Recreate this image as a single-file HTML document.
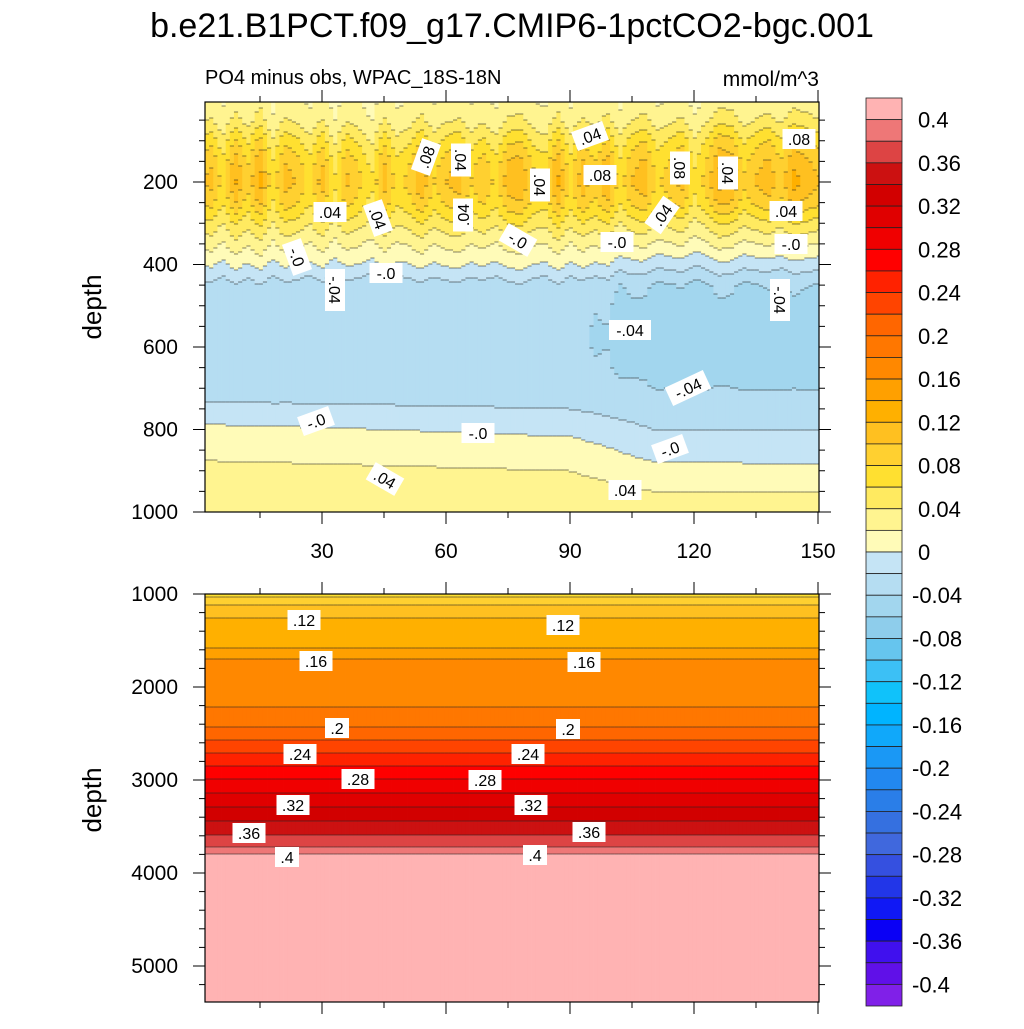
<!DOCTYPE html>
<html><head><meta charset="utf-8">
<style>
html,body{margin:0;padding:0;background:#fff;}
body{width:1024px;height:1024px;overflow:hidden;font-family:"Liberation Sans",Arial,sans-serif;}
svg text{font-family:"Liberation Sans",Arial,sans-serif;}
</style></head>
<body>
<svg id="fig" width="1024" height="1024" viewBox="0 0 1024 1024" xmlns="http://www.w3.org/2000/svg">
<text x="512" y="37" font-size="34" text-anchor="middle">b.e21.B1PCT.f09_g17.CMIP6-1pctCO2-bgc.001</text>
<text x="205" y="84" font-size="20">PO4 minus obs, WPAC_18S-18N</text>
<text x="819" y="86" font-size="21" text-anchor="end">mmol/m^3</text>
<text transform="translate(101,307) rotate(-90)" font-size="26" text-anchor="middle">depth</text>
<text transform="translate(101,800) rotate(-90)" font-size="26" text-anchor="middle">depth</text>
<g id="topPlot"></g>
<g id="botPlot"></g>
<g id="labels"></g>
<g id="axes"></g>
<g id="cbar"></g>
</svg>
<script>
// ---- data ----
const posColors = ["#FFFBB8","#FFF490","#FFEA60","#FFE030","#FFD030","#FFC020","#FFB000","#FFA000","#FF8800","#FF7700","#FF6600","#FF4400","#FF2200","#FF0000","#F00000","#E00000","#D20000","#CC1111","#DD4444","#EE7777","#FFB3B3"];
const negColors = ["#C5E4F5","#B5DDF2","#A2D6EE","#8ECDEB","#66C5EE","#3CC0F5","#10C2FA","#00B4FF","#10A8FA","#1A98F5","#2288F0","#2A7EE8","#3570E0","#4068DD","#3550E0","#2236E8","#1018F5","#0A00F5","#4010EE","#6010E8","#8020E8"];
const cbarLabels = ["0.4","0.36","0.32","0.28","0.24","0.2","0.16","0.12","0.08","0.04","0","-0.04","-0.08","-0.12","-0.16","-0.2","-0.24","-0.28","-0.32","-0.36","-0.4"];
const xTicks = [30,60,90,120,150];
const topYTicks = [200,400,600,800,1000];
const botYTicks = [1000,2000,3000,4000,5000];

const topDepths = [0,50,100,150,200,250,300,350,400,450,500,550,600,650,700,750,800,850,900,950,1000];
const sliceYears = [0,90,110,150];
const sliceX0   = [0.02,0.03,0.055,0.075,0.085,0.07,0.045,0.022,-0.002,-0.03,-0.035,-0.035,-0.035,-0.035,-0.03,-0.015,0.005,0.015,0.025,0.03,0.035];
const sliceX90  = [0.02,0.03,0.055,0.078,0.088,0.075,0.05,0.022,0.0,-0.03,-0.036,-0.038,-0.038,-0.036,-0.03,-0.02,-0.005,0.01,0.02,0.03,0.035];
const sliceX110 = [0.02,0.035,0.062,0.08,0.09,0.075,0.045,0.018,-0.012,-0.042,-0.048,-0.048,-0.048,-0.046,-0.04,-0.03,-0.02,-0.008,0.006,0.02,0.03];
const sliceX150 = [0.02,0.035,0.062,0.08,0.09,0.075,0.045,0.015,-0.015,-0.045,-0.05,-0.05,-0.05,-0.048,-0.042,-0.03,-0.02,-0.01,0.005,0.02,0.03];
const stripeEnv = [0.4,0.6,1,1.2,1.3,1,0.6,0.4,0.3,0.3,0.2,0.1,0.1,0.1,0.05,0,0,0,0,0,0];
const stripeYears = [0,3,6,9,12,15,18,21,24,27,30,33,36,39,42,45,48,51,54,57,60,63,66,69,72,75,78,81,84,87,90,93,96,99,102,105,108,111,114,117,120,123,126,129,132,135,138,141,144,147,150];
const stripeVals = [0.0,0.02,-0.01,0.03,0.0,0.035,-0.015,0.02,0.01,-0.01,0.02,-0.02,0.015,0.0,-0.02,0.02,-0.01,0.0,0.025,-0.005,0.01,0.02,-0.005,0.01,-0.01,0.02,0.025,0.0,-0.01,0.03,-0.01,0.02,0.0,0.025,-0.015,0.01,0.02,-0.01,0.0,0.015,-0.02,0.0,0.03,0.025,-0.005,0.01,0.02,0.0,0.03,0.02,0.01];

const botDepths = [1000,1030,1120,1260,1580,1700,1970,2220,2430,2570,2710,2850,2990,3140,3290,3440,3590,3720,3800,3860,5400];
const botVals   = [0.07,0.08,0.10,0.12,0.14,0.16,0.175,0.18,0.20,0.22,0.24,0.26,0.28,0.30,0.32,0.34,0.36,0.38,0.40,0.43,0.43];

// ---- geometry ----
const X0=205, X1=819;
const xs = yr => 198 + yr*(124/30);
const TY0=102, TY1=512;
const ty = d => 99.5 + d*0.4125;
const tyInv = y => (y-99.5)/0.4125;
const BY0=594, BY1=1002;
const by = d => 594 + (d-1000)*0.093;
const byInv = y => 1000 + (y-594)/0.093;
const NS="http://www.w3.org/2000/svg";
function mk(tag, attrs, parent){const e=document.createElementNS(NS,tag);for(const k in attrs)e.setAttribute(k,attrs[k]);parent.appendChild(e);return e;}
function interp(xa, ya, x){ if(x<=xa[0])return ya[0]; for(let i=1;i<xa.length;i++){ if(x<=xa[i]){const t=(x-xa[i-1])/(xa[i]-xa[i-1]);return ya[i-1]+t*(ya[i]-ya[i-1]);} } return ya[ya.length-1]; }
function level(v){ return v>=0 ? Math.min(20,Math.floor(v/0.02+1e-9)) : -(Math.min(20,Math.floor(-v/0.02-1e-9))+1); }
function colorOf(l){ return l>=0 ? posColors[l] : negColors[-l-1]; }
const slices=[sliceX0,sliceX90,sliceX110,sliceX150];
function topVal(yr,d){
  const col = slices.map(s=>interp(topDepths,s,d));
  return interp(sliceYears,col,yr) + interp(stripeYears,stripeVals,yr)*interp(topDepths,stripeEnv,d);
}
function botVal(yr,d){ return interp(botDepths,botVals,d); }

function drawPanel(g, Y0, Y1, yInv, valFn, step){
  const lines=[];
  for(let yr=1.7; yr<150.5; yr+=1){
    const xa=Math.max(X0,xs(yr)), xb=Math.min(X1,xs(yr+1));
    if(xb<=xa) continue;
    let runStart=Y0, runL=level(valFn(yr+0.5,yInv(Y0+step/2)));
    for(let y=Y0+step; y<=Y1; y+=step){
      const yy=Math.min(y,Y1);
      const l = y>=Y1 ? null : level(valFn(yr+0.5,yInv(yy+step/2)));
      if(l!==runL){
        const r=mk('rect',{x:xa.toFixed(2),y:runStart.toFixed(2),width:(xb-xa+0.4).toFixed(2),height:(yy-runStart+0.4).toFixed(2),fill:colorOf(runL)},g);
        
        
        if(l!==null) lines.push([xa,xb,yy]);
        runStart=yy; runL=l;
      }
    }
  }
  lines.forEach(([a,b,y])=>{
    const ln=mk('line',{x1:a.toFixed(2),x2:b.toFixed(2),y1:y.toFixed(2),y2:y.toFixed(2),stroke:'#222','stroke-width':0.8,'stroke-opacity':0.7},g);
    
    
  });
}
drawPanel(document.getElementById('topPlot'),TY0,TY1,tyInv,topVal,2);
drawPanel(document.getElementById('botPlot'),BY0,BY1,byInv,botVal,1);

// ---- contour labels ----
const lblG=document.getElementById('labels');
const labelSpecs=[
 [330,212,".04",0],[378,218,".04",70],[426,157,".08",-70],[461,160,".04",90],[463,215,".04",-90],[540,185,".04",90],[590,136,".04",-20],[600,175,".08",0],[680,168,".08",90],[728,173,".04",90],[662,215,".04",-55],[786,211,".04",0],[799,139,".08",0],
 [297,257,"-.0",70],[386,273,"-.0",0],[518,240,"-.0",30],[617,242,"-.0",0],[791,244,"-.0",0],[335,290,"-.04",90],[780,300,"-.04",90],[630,330,"-.04",0],[688,388,"-.04",-25],
 [316,421,"-.0",-20],[478,433,"-.0",0],[670,449,"-.0",-20],[385,479,".04",30],[625,490,".04",0],
 [304,620,".12",0],[563,625,".12",0],[316,661,".16",0],[584,662,".16",0],[337,728,".2",0],[568,729,".2",0],[300,754,".24",0],[528,754,".24",0],
 [358,779,".28",0],[485,780,".28",0],[293,805,".32",0],[531,805,".32",0],[249,833,".36",0],[589,832,".36",0],[287,857,".4",0],[535,855,".4",0]
];
labelSpecs.forEach(([x,y,t,r])=>{
  const g=mk('g',{transform:`translate(${x},${y}) rotate(${r})`},lblG);
  
  
  const w=t.length*9+6;
  mk('rect',{x:-w/2,y:-10,width:w,height:20,fill:'#fff'},g);
  const tx=mk('text',{x:0,y:6,'font-size':16,'text-anchor':'middle'},g);
  tx.textContent=t;
});

// ---- axes ----
const ax=document.getElementById('axes');
function frame(y0,y1,name){
  const r=mk('rect',{x:X0,y:y0,width:X1-X0,height:y1-y0,fill:'none',stroke:'#000','stroke-width':1.2},ax);
  
  
}
frame(TY0,TY1,'top-panel-frame'); frame(BY0,BY1,'bottom-panel-frame');
function tick(x1,y1,x2,y2){const l=mk('line',{x1,y1,x2,y2,stroke:'#000','stroke-width':1},ax);}
for(let yr=15; yr<=150; yr+=15){
  const x=xs(yr), major=(yr%30===0), L=major?12:6;
  [[TY0,-1],[TY1,1],[BY0,-1],[BY1,1]].forEach(([y,s])=>tick(x,y,x,y+s*L));
}
xTicks.forEach(v=>{const t=mk('text',{x:xs(v),y:558,'font-size':21,'text-anchor':'middle'},ax);t.textContent=v;});
for(let d=50; d<=1000; d+=50){
  const y=ty(d); if(y<TY0) continue; const L=(d%200===0)?12:6;
  tick(X0,y,X0-L,y); tick(X1,y,X1+L,y);
}
topYTicks.forEach(v=>{const t=mk('text',{x:178,y:ty(v)+7,'font-size':21,'text-anchor':'end'},ax);t.textContent=v;});
for(let d=1000; d<=5300; d+=200){
  const y=by(d); if(y>BY1) continue; const L=(d%1000===0)?12:6;
  tick(X0,y,X0-L,y); tick(X1,y,X1+L,y);
}
botYTicks.forEach(v=>{const t=mk('text',{x:178,y:by(v)+7,'font-size':21,'text-anchor':'end'},ax);t.textContent=v;});

// ---- colorbar ----
const cb=document.getElementById('cbar');
const CBX=866, CBW=36, CBY0=98, BOX=(1006-98)/42;
const allBoxes=[...posColors].reverse().concat(negColors);
allBoxes.forEach((c,i)=>{
  const r=mk('rect',{x:CBX,y:(CBY0+i*BOX).toFixed(2),width:CBW,height:BOX.toFixed(2),fill:c,stroke:'#222','stroke-width':0.8},cb);
  
  
});
cbarLabels.forEach((s,i)=>{
  const y=CBY0+(1+2*i)*BOX;
  const t=mk('text',{x:s.startsWith('-')?912:918,y:y+8,'font-size':22},cb);
  t.textContent=s;
  
  
});
</script>
</body></html>
